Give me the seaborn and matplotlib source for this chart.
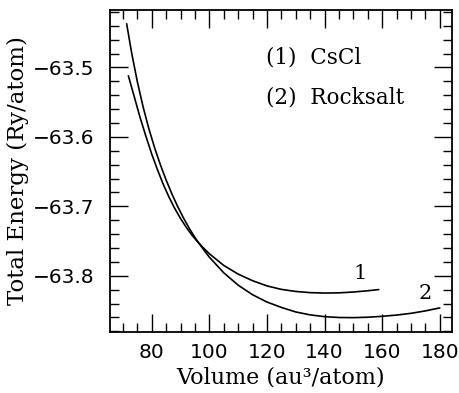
import pandas as pd
import matplotlib
matplotlib.use("Agg")
import matplotlib.pyplot as plt
import seaborn as sns
from matplotlib.ticker import MultipleLocator, FuncFormatter

# values
cscl_volume = [71.9, 74, 76, 78, 80, 82, 84, 86, 88, 90, 92, 94, 96, 98, 100,
               105, 110, 115, 120, 125, 130, 135, 140, 145, 150, 155, 158.8]
cscl_energy = [-63.512, -63.5430, -63.5726, -63.5992, -63.6246, -63.6472,
               -63.6682, -63.6866, -63.7030, -63.7174, -63.7302, -63.7416,
               -63.7514, -63.7600, -63.7682, -63.7850, -63.7975, -63.8070,
               -63.8145, -63.8195, -63.8225, -63.8242, -63.8248, -63.8245,
               -63.8233, -63.8215, -63.8198]

rock_volume = [71.3, 73, 75, 77, 79, 81, 83, 85, 87, 89, 91, 93, 95, 97.5, 100,
               105, 110, 115, 120, 125, 130, 135, 140, 145, 150, 155, 160, 165,
               170, 175, 180]
rock_energy = [-63.437, -63.4783, -63.5203, -63.5566, -63.5880, -63.6155,
               -63.6400, -63.6620, -63.6820, -63.7001, -63.7165, -63.7314,
               -63.7448, -63.7595, -63.7731, -63.7956, -63.8134, -63.8272,
               -63.8377, -63.8455, -63.8520, -63.8562, -63.8588, -63.8600,
               -63.8602, -63.8596, -63.8583, -63.8565, -63.8540, -63.8505,
               -63.8462]

legend_lines = ["(1)  CsCl", "(2)  Rocksalt"]
curve_tags = ["1", "2"]

sns.set_style("ticks")
plt.rcParams['font.family'] = ['DejaVu Sans']
plt.rcParams['text.color'] = 'black'
plt.rcParams['axes.labelcolor'] = 'black'

cscl = pd.DataFrame({"Volume": cscl_volume, "Energy": cscl_energy})
rock = pd.DataFrame({"Volume": rock_volume, "Energy": rock_energy})

fig = plt.figure(figsize=(4.6, 3.93), dpi=100)
ax = fig.add_axes([0.239, 0.155, 0.744, 0.820])

sns.lineplot(data=cscl, x="Volume", y="Energy", sort=False, color="black",
             linewidth=1.2, ax=ax)
sns.lineplot(data=rock, x="Volume", y="Energy", sort=False, color="black",
             linewidth=1.2, ax=ax)

ax.set_xlim(65.5, 184.3)
ax.set_ylim(-63.881, -63.417)
ax.xaxis.set_major_locator(MultipleLocator(20))
ax.xaxis.set_minor_locator(MultipleLocator(5))
ax.yaxis.set_major_locator(MultipleLocator(0.1))
ax.yaxis.set_minor_locator(MultipleLocator(0.02))
ax.yaxis.set_major_formatter(FuncFormatter(lambda v, p: f"\u2212{abs(v):.1f}"))

ax.tick_params(which="both", direction="in", top=True, right=True, width=1.0,
               labelsize=14.5, colors="black")
ax.tick_params(which="major", length=13)
ax.tick_params(which="minor", length=6.5)
ax.tick_params(axis="x", which="major", pad=8)
ax.tick_params(axis="y", which="major", pad=11)
for s in ax.spines.values():
    s.set_linewidth(1.3)
    s.set_color("black")

ax.set_xlabel("Volume (au\u00b3/atom)", family="DejaVu Serif", fontsize=16,
              labelpad=3)
ax.set_ylabel("Total Energy (Ry/atom)", family="DejaVu Serif", fontsize=16.5,
              labelpad=3)

ax.text(0.457, 0.851, legend_lines[0], transform=ax.transAxes,
        family="DejaVu Serif", fontsize=15.5, va="center", ha="left")
ax.text(0.457, 0.727, legend_lines[1], transform=ax.transAxes,
        family="DejaVu Serif", fontsize=15.5, va="center", ha="left")
ax.text(152.5, -63.796, curve_tags[0], family="DejaVu Serif", fontsize=15,
        ha="center", va="center")
ax.text(174.8, -63.825, curve_tags[1], family="DejaVu Serif", fontsize=15,
        ha="center", va="center")

fig.savefig("out.png", dpi=100)
